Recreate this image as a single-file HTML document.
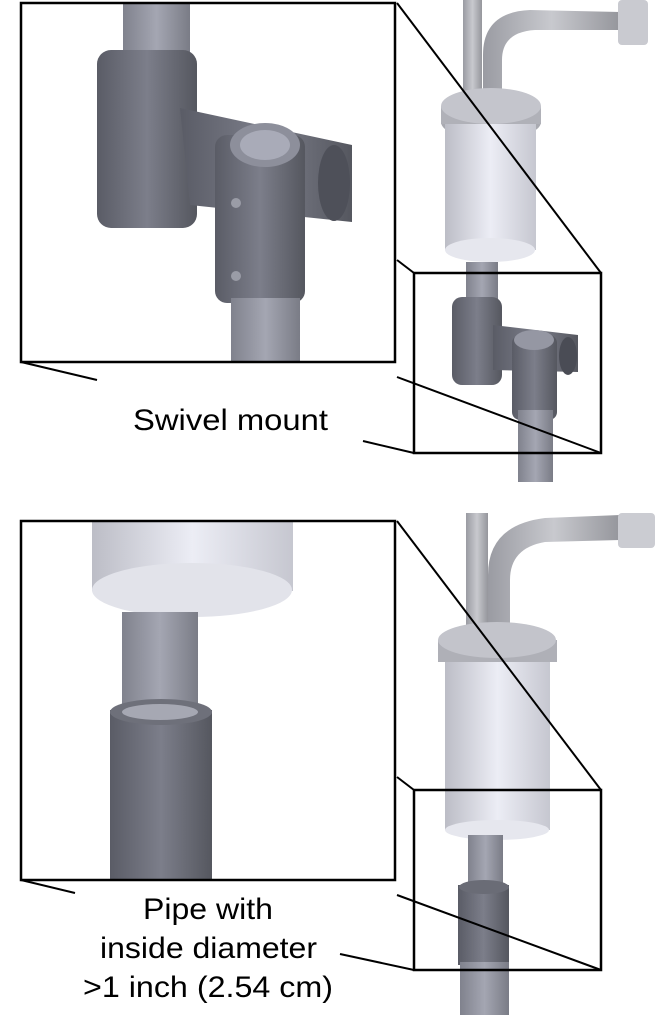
<!DOCTYPE html>
<html><head><style>
html,body{margin:0;padding:0;background:#fff;width:670px;height:1015px;overflow:hidden}
svg{display:block}
text{font-family:"Liberation Sans",sans-serif;font-size:30px;fill:#000}
</style></head><body>
<svg width="670" height="1015" viewBox="0 0 670 1015" xmlns="http://www.w3.org/2000/svg">
<defs>
<linearGradient id="dk" x1="0" x2="1"><stop offset="0" stop-color="#5a5c66"/><stop offset="0.5" stop-color="#7c7e8a"/><stop offset="1" stop-color="#55575f"/></linearGradient>
<linearGradient id="md" x1="0" x2="1"><stop offset="0" stop-color="#80828d"/><stop offset="0.5" stop-color="#a4a6b2"/><stop offset="1" stop-color="#7a7c86"/></linearGradient>
<linearGradient id="lt" x1="0" x2="1"><stop offset="0" stop-color="#bcbdc6"/><stop offset="0.5" stop-color="#ecedf5"/><stop offset="1" stop-color="#c6c7d0"/></linearGradient>
<linearGradient id="gr" x1="0" x2="1"><stop offset="0" stop-color="#9a9ba2"/><stop offset="0.5" stop-color="#c8c9ce"/><stop offset="1" stop-color="#95969c"/></linearGradient>
</defs>

<rect x="463" y="0" width="19" height="100" fill="url(#gr)"/>
<path d="M483 100 L483 55 Q483 12 530 10 L620 12 L620 30 L535 30 Q502 32 502 60 L502 100 Z" fill="url(#gr)"/>
<rect x="618" y="0" width="30" height="45" rx="4" fill="#c9cad0"/>
<ellipse cx="491" cy="122" rx="50" ry="18" fill="#a9aab1"/>
<rect x="445" y="122" width="91" height="128" fill="url(#lt)"/>
<ellipse cx="490" cy="250" rx="45" ry="12" fill="#e6e7ee"/>
<rect x="441" y="106" width="100" height="18" fill="#b0b1b8"/>
<ellipse cx="491" cy="106" rx="50" ry="18" fill="#c4c5cc"/>
<rect x="466" y="262" width="32" height="45" fill="url(#md)"/>
<rect x="452" y="297" width="50" height="88" rx="10" fill="url(#dk)"/>
<path d="M493 325 L578 335 L578 372 L493 370 Z" fill="url(#dk)"/>
<ellipse cx="568" cy="356" rx="9" ry="19" fill="#4a4c55"/>
<rect x="512" y="335" width="45" height="85" rx="8" fill="url(#dk)"/>
<ellipse cx="534" cy="340" rx="20" ry="10" fill="#9597a3"/>
<rect x="518" y="410" width="35" height="72" fill="url(#md)"/>

<rect x="123" y="3" width="67" height="80" fill="url(#md)"/>
<rect x="97" y="50" width="100" height="178" rx="14" fill="url(#dk)"/>
<path d="M180 108 L352 145 L352 222 L190 205 Z" fill="url(#dk)"/>
<ellipse cx="334" cy="183" rx="16" ry="38" fill="#4e5059"/>
<rect x="215" y="135" width="90" height="168" rx="12" fill="url(#dk)"/>
<ellipse cx="265" cy="145" rx="35" ry="22" fill="#8d8f9b"/>
<ellipse cx="265" cy="145" rx="25" ry="15" fill="#a9abb8"/>
<circle cx="236" cy="203" r="5" fill="#9a9ca6"/>
<circle cx="236" cy="276" r="5" fill="#9a9ca6"/>
<rect x="231" y="298" width="69" height="64" fill="url(#md)"/>

<g stroke="#000" fill="none">
<rect x="21" y="3" width="374" height="359" stroke-width="2.5"/>
<rect x="414" y="273" width="187" height="180" stroke-width="2.5"/>
<line x1="397" y1="3" x2="601" y2="273" stroke-width="2"/>
<line x1="397" y1="260" x2="414" y2="273" stroke-width="2"/>
<line x1="397" y1="377" x2="601" y2="453" stroke-width="2"/>
<line x1="21" y1="362" x2="97" y2="380" stroke-width="2"/>
<line x1="363" y1="441" x2="414" y2="453" stroke-width="2"/>
</g>
<text x="133" y="430" textLength="195" lengthAdjust="spacingAndGlyphs">Swivel mount</text>

<rect x="466" y="513" width="22" height="125" fill="url(#gr)"/>
<path d="M488 635 L488 575 Q488 525 545 518 L620 515 L620 540 L545 542 Q510 548 510 580 L510 635 Z" fill="url(#gr)"/>
<rect x="618" y="513" width="37" height="35" rx="4" fill="#cbccd2"/>
<rect x="445" y="660" width="105" height="170" fill="url(#lt)"/>
<ellipse cx="497" cy="830" rx="52" ry="10" fill="#e6e7ee"/>
<rect x="438" y="640" width="119" height="22" fill="#afb0b7"/>
<ellipse cx="497" cy="640" rx="59" ry="18" fill="#c3c4cb"/>
<rect x="468" y="835" width="35" height="55" fill="url(#md)"/>
<rect x="458" y="885" width="51" height="80" fill="url(#dk)"/>
<ellipse cx="484" cy="887" rx="25" ry="7" fill="#6a6c76"/>
<rect x="460" y="962" width="49" height="53" fill="url(#md)"/>

<rect x="92" y="521" width="201" height="70" fill="url(#lt)"/>
<ellipse cx="192" cy="590" rx="100" ry="27" fill="#e2e3ea"/>
<rect x="122" y="612" width="76" height="108" fill="url(#md)"/>
<rect x="110" y="710" width="102" height="170" fill="url(#dk)"/>
<ellipse cx="161" cy="712" rx="51" ry="13" fill="#6e707a"/>
<ellipse cx="160" cy="712" rx="38" ry="8" fill="#a6a8b3"/>

<g stroke="#000" fill="none">
<rect x="21" y="521" width="374" height="359" stroke-width="2.5"/>
<rect x="414" y="790" width="187" height="180" stroke-width="2.5"/>
<line x1="397" y1="521" x2="601" y2="790" stroke-width="2"/>
<line x1="397" y1="777" x2="414" y2="790" stroke-width="2"/>
<line x1="397" y1="895" x2="601" y2="970" stroke-width="2"/>
<line x1="21" y1="880" x2="75" y2="893" stroke-width="2"/>
<line x1="340" y1="954" x2="414" y2="970" stroke-width="2"/>
</g>
<text x="143" y="919" textLength="130" lengthAdjust="spacingAndGlyphs">Pipe with</text>
<text x="100" y="958" textLength="217" lengthAdjust="spacingAndGlyphs">inside diameter</text>
<text x="83" y="997" textLength="250" lengthAdjust="spacingAndGlyphs">&gt;1 inch (2.54 cm)</text>
</svg>
</body></html>
